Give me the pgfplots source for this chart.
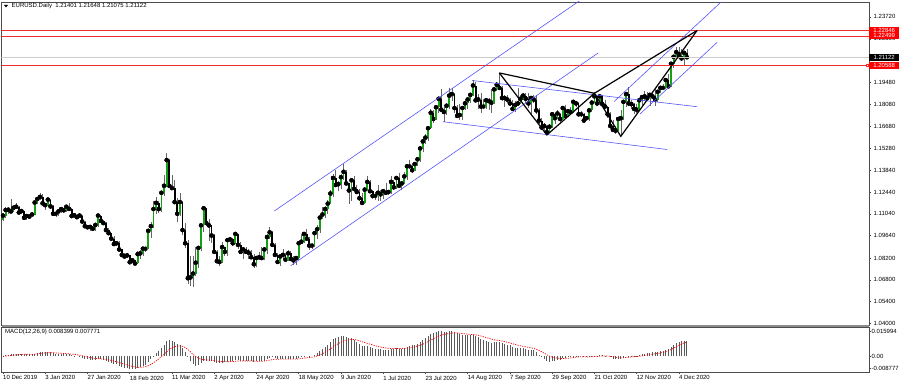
\documentclass[border=0pt]{standalone}
\usepackage{fontspec}
\setmainfont{Liberation Sans}
\usepackage{pgfplots}
\usepackage{pgfplotstable}
\pgfplotsset{compat=1.18}
\definecolor{upg}{RGB}{20,160,20}
\definecolor{chblue}{RGB}{85,85,250}
\definecolor{lvred}{RGB}{240,45,45}
\definecolor{boxred}{RGB}{255,0,0}
\definecolor{bidgray}{RGB}{205,205,205}

\pgfplotstableread{
i o h l c
0 1.1066 1.1096 1.1061 1.1093
1 1.1093 1.1146 1.1078 1.1129
2 1.1129 1.1145 1.1105 1.1131
3 1.1131 1.1200 1.1107 1.1120
4 1.1120 1.1155 1.1115 1.1144
5 1.1144 1.1175 1.1133 1.1150
6 1.1150 1.1154 1.1106 1.1113
7 1.1113 1.1132 1.1105 1.1122
8 1.1122 1.1124 1.1066 1.1079
9 1.1079 1.1093 1.1067 1.1090
10 1.1090 1.1093 1.1080 1.1087
11 1.1087 1.1103 1.1083 1.1100
12 1.1100 1.1188 1.1098 1.1177
13 1.1177 1.1209 1.1165 1.1200
14 1.1200 1.1239 1.1195 1.1213
15 1.1213 1.1229 1.1163 1.1172
16 1.1172 1.1175 1.1128 1.1160
17 1.1160 1.1206 1.1147 1.1196
18 1.1196 1.1197 1.1134 1.1152
19 1.1152 1.1164 1.1090 1.1105
20 1.1105 1.1120 1.1086 1.1105
21 1.1105 1.1125 1.1090 1.1120
22 1.1120 1.1140 1.1107 1.1135
23 1.1135 1.1140 1.1115 1.1127
24 1.1127 1.1152 1.1117 1.1150
25 1.1150 1.1171 1.1132 1.1136
26 1.1136 1.1143 1.1083 1.1090
27 1.1090 1.1098 1.1086 1.1095
28 1.1095 1.1102 1.1076 1.1083
29 1.1083 1.1104 1.1076 1.1093
30 1.1093 1.1097 1.1036 1.1055
31 1.1055 1.1061 1.1020 1.1025
32 1.1025 1.1031 1.1008 1.1018
33 1.1018 1.1025 1.0993 1.1020
34 1.1020 1.1025 1.0992 1.1009
35 1.1009 1.1043 1.0995 1.1033
36 1.1033 1.1097 1.1020 1.1093
37 1.1093 1.1096 1.1050 1.1060
38 1.1060 1.1064 1.1036 1.1045
39 1.1045 1.1049 1.0990 1.1000
40 1.1000 1.1014 1.0966 1.0980
41 1.0980 1.0981 1.0940 1.0945
42 1.0945 1.0959 1.0905 1.0910
43 1.0910 1.0929 1.0895 1.0915
44 1.0915 1.0928 1.0870 1.0875
45 1.0875 1.0880 1.0829 1.0840
46 1.0840 1.0851 1.0827 1.0830
47 1.0830 1.0851 1.0822 1.0837
48 1.0837 1.0840 1.0788 1.0793
49 1.0793 1.0816 1.0785 1.0805
50 1.0805 1.0808 1.0778 1.0785
51 1.0785 1.0863 1.0780 1.0845
52 1.0845 1.0873 1.0814 1.0850
53 1.0850 1.0890 1.0830 1.0880
54 1.0880 1.0892 1.0856 1.0880
55 1.0880 1.1001 1.0876 1.0995
56 1.0995 1.1053 1.0949 1.1025
57 1.1025 1.1185 1.1015 1.1135
58 1.1135 1.1214 1.1106 1.1175
59 1.1175 1.1185 1.1110 1.1135
60 1.1135 1.1247 1.1114 1.1240
61 1.1240 1.1355 1.1216 1.1285
62 1.1285 1.1496 1.1280 1.1450
63 1.1450 1.1460 1.1284 1.1285
64 1.1285 1.1357 1.1261 1.1270
65 1.1270 1.1320 1.1170 1.1180
66 1.1180 1.1209 1.1055 1.1105
67 1.1105 1.1240 1.1090 1.1180
68 1.1180 1.1190 1.0965 1.1000
69 1.1000 1.1045 1.0887 1.0915
70 1.0915 1.0935 1.0655 1.0690
71 1.0690 1.0830 1.0639 1.0695
72 1.0695 1.0830 1.0636 1.0720
73 1.0720 1.0890 1.0705 1.0790
74 1.0790 1.0890 1.0755 1.0885
75 1.0885 1.1035 1.0865 1.1030
76 1.1030 1.1147 1.0990 1.1140
77 1.1140 1.1145 1.1025 1.1045
78 1.1045 1.1072 1.0930 1.1030
79 1.1030 1.1035 1.0915 1.0965
80 1.0965 1.0972 1.0855 1.0860
81 1.0860 1.0870 1.0780 1.0800
82 1.0800 1.0833 1.0768 1.0795
83 1.0795 1.0925 1.0790 1.0890
84 1.0890 1.0891 1.0830 1.0860
85 1.0860 1.0952 1.0830 1.0935
86 1.0935 1.0955 1.0925 1.0940
87 1.0940 1.0950 1.0895 1.0915
88 1.0915 1.0990 1.0910 1.0975
89 1.0975 1.0975 1.0880 1.0905
90 1.0905 1.0926 1.0855 1.0860
91 1.0860 1.0889 1.0813 1.0875
92 1.0875 1.0890 1.0845 1.0860
93 1.0860 1.0878 1.0815 1.0855
94 1.0855 1.0870 1.0820 1.0825
95 1.0825 1.0844 1.0757 1.0780
96 1.0780 1.0830 1.0762 1.0820
97 1.0820 1.0860 1.0810 1.0825
98 1.0825 1.0888 1.0812 1.0820
99 1.0820 1.0888 1.0810 1.0875
100 1.0875 1.0973 1.0845 1.0955
101 1.0955 1.1019 1.0945 1.0985
102 1.0985 1.0993 1.0890 1.0905
103 1.0905 1.0915 1.0825 1.0840
104 1.0840 1.0850 1.0782 1.0795
105 1.0795 1.0840 1.0768 1.0830
106 1.0830 1.0875 1.0815 1.0840
107 1.0840 1.0850 1.0795 1.0810
108 1.0810 1.0873 1.0800 1.0850
109 1.0850 1.0868 1.0805 1.0815
110 1.0815 1.0830 1.0775 1.0805
111 1.0805 1.0830 1.0775 1.0820
112 1.0820 1.0930 1.0805 1.0915
113 1.0915 1.0975 1.0910 1.0925
114 1.0925 1.0980 1.0918 1.0975
115 1.0975 1.1008 1.0935 1.0945
116 1.0945 1.0956 1.0870 1.0900
117 1.0900 1.0918 1.0880 1.0900
118 1.0900 1.0995 1.0890 1.0980
119 1.0980 1.1030 1.0940 1.1005
120 1.1005 1.1092 1.0980 1.1080
121 1.1080 1.1146 1.1070 1.1100
122 1.1100 1.1155 1.1080 1.1135
123 1.1135 1.1195 1.1105 1.1170
124 1.1170 1.1257 1.1166 1.1235
125 1.1235 1.1361 1.1212 1.1335
126 1.1335 1.1384 1.1275 1.1290
127 1.1290 1.1315 1.1253 1.1295
128 1.1295 1.1361 1.1265 1.1340
129 1.1340 1.1422 1.1325 1.1375
130 1.1375 1.1389 1.1295 1.1300
131 1.1300 1.1302 1.1168 1.1255
132 1.1255 1.1333 1.1190 1.1320
133 1.1320 1.1350 1.1245 1.1265
134 1.1265 1.1290 1.1230 1.1245
135 1.1245 1.1266 1.1187 1.1205
136 1.1205 1.1240 1.1168 1.1175
137 1.1175 1.1275 1.1170 1.1260
138 1.1260 1.1349 1.1250 1.1310
139 1.1310 1.1322 1.1240 1.1250
140 1.1250 1.1255 1.1200 1.1220
141 1.1220 1.1247 1.1195 1.1220
142 1.1220 1.1290 1.1190 1.1240
143 1.1240 1.1255 1.1190 1.1230
144 1.1230 1.1265 1.1200 1.1250
145 1.1250 1.1302 1.1230 1.1240
146 1.1240 1.1255 1.1225 1.1245
147 1.1245 1.1345 1.1235 1.1310
148 1.1310 1.1320 1.1255 1.1275
149 1.1275 1.1347 1.1262 1.1335
150 1.1335 1.1370 1.1270 1.1285
151 1.1285 1.1310 1.1255 1.1300
152 1.1300 1.1375 1.1295 1.1345
153 1.1345 1.1420 1.1320 1.1410
154 1.1410 1.1452 1.1390 1.1410
155 1.1410 1.1432 1.1370 1.1385
156 1.1385 1.1440 1.1380 1.1425
157 1.1425 1.1470 1.1410 1.1455
158 1.1455 1.1540 1.1440 1.1525
159 1.1525 1.1600 1.1505 1.1570
160 1.1570 1.1620 1.1555 1.1595
161 1.1595 1.1665 1.1575 1.1655
162 1.1655 1.1780 1.1650 1.1755
163 1.1755 1.1770 1.1690 1.1715
164 1.1715 1.1805 1.1710 1.1790
165 1.1790 1.1850 1.1755 1.1845
166 1.1845 1.1908 1.1760 1.1775
167 1.1775 1.1790 1.1695 1.1760
168 1.1760 1.1815 1.1740 1.1800
169 1.1800 1.1915 1.1780 1.1865
170 1.1865 1.1916 1.1830 1.1875
171 1.1875 1.1880 1.1755 1.1785
172 1.1785 1.1805 1.1730 1.1735
173 1.1735 1.1810 1.1710 1.1740
174 1.1740 1.1800 1.1710 1.1785
175 1.1785 1.1835 1.1775 1.1815
176 1.1815 1.1850 1.1780 1.1840
177 1.1840 1.1875 1.1820 1.1870
178 1.1870 1.1966 1.1865 1.1930
179 1.1930 1.1950 1.1830 1.1835
180 1.1835 1.1875 1.1780 1.1840
181 1.1840 1.1883 1.1753 1.1795
182 1.1795 1.1845 1.1780 1.1795
183 1.1795 1.1850 1.1780 1.1835
184 1.1835 1.1850 1.1770 1.1830
185 1.1830 1.1905 1.1755 1.1820
186 1.1820 1.1920 1.1810 1.1905
187 1.1905 1.1950 1.1895 1.1935
188 1.1935 1.2011 1.1905 1.1915
189 1.1915 1.1925 1.1830 1.1850
190 1.1850 1.1870 1.1790 1.1850
191 1.1850 1.1870 1.1815 1.1840
192 1.1840 1.1850 1.1800 1.1815
193 1.1815 1.1835 1.1765 1.1780
194 1.1780 1.1830 1.1760 1.1805
195 1.1805 1.1917 1.1800 1.1815
196 1.1815 1.1870 1.1810 1.1845
197 1.1845 1.1885 1.1835 1.1865
198 1.1865 1.1885 1.1820 1.1845
199 1.1845 1.1880 1.1785 1.1815
200 1.1815 1.1835 1.1737 1.1850
201 1.1850 1.1870 1.1815 1.1840
202 1.1840 1.1870 1.1745 1.1770
203 1.1770 1.1785 1.1685 1.1705
204 1.1705 1.1720 1.1645 1.1660
205 1.1660 1.1690 1.1625 1.1670
206 1.1670 1.1675 1.1612 1.1630
207 1.1630 1.1684 1.1625 1.1665
208 1.1665 1.1755 1.1655 1.1745
209 1.1745 1.1755 1.1685 1.1720
210 1.1720 1.1770 1.1715 1.1750
211 1.1750 1.1755 1.1695 1.1715
212 1.1715 1.1795 1.1710 1.1785
213 1.1785 1.1805 1.1745 1.1735
214 1.1735 1.1770 1.1730 1.1765
215 1.1765 1.1790 1.1745 1.1760
216 1.1760 1.1830 1.1755 1.1825
217 1.1825 1.1830 1.1790 1.1815
218 1.1815 1.1825 1.1735 1.1745
219 1.1745 1.1765 1.1725 1.1745
220 1.1745 1.1755 1.1690 1.1705
221 1.1705 1.1735 1.1700 1.1720
222 1.1720 1.1785 1.1705 1.1770
223 1.1770 1.1840 1.1760 1.1820
224 1.1820 1.1880 1.1815 1.1860
225 1.1860 1.1865 1.1800 1.1815
226 1.1815 1.1870 1.1805 1.1860
227 1.1860 1.1868 1.1790 1.1810
228 1.1810 1.1835 1.1790 1.1795
229 1.1795 1.1800 1.1720 1.1745
230 1.1745 1.1760 1.1650 1.1670
231 1.1670 1.1710 1.1640 1.1645
232 1.1645 1.1670 1.1620 1.1640
233 1.1640 1.1720 1.1635 1.1715
234 1.1715 1.1770 1.1603 1.1720
235 1.1720 1.1830 1.1710 1.1825
236 1.1825 1.1890 1.1795 1.1875
237 1.1875 1.1920 1.1800 1.1815
238 1.1815 1.1840 1.1780 1.1810
239 1.1810 1.1820 1.1745 1.1780
240 1.1780 1.1810 1.1755 1.1775
241 1.1775 1.1840 1.1765 1.1835
242 1.1835 1.1870 1.1805 1.1855
243 1.1855 1.1895 1.1830 1.1860
244 1.1860 1.1890 1.1830 1.1850
245 1.1850 1.1880 1.1800 1.1870
246 1.1870 1.1890 1.1845 1.1860
247 1.1860 1.1905 1.1800 1.1840
248 1.1840 1.1895 1.1825 1.1890
249 1.1890 1.1925 1.1880 1.1915
250 1.1915 1.1942 1.1905 1.1915
251 1.1915 1.1970 1.1905 1.1965
252 1.1965 1.2005 1.1920 1.1925
253 1.1925 1.2075 1.1920 1.2070
254 1.2070 1.2121 1.2040 1.2115
255 1.2115 1.2176 1.2105 1.2145
256 1.2145 1.2177 1.2110 1.2120
257 1.2120 1.2165 1.2090 1.2105
258 1.2105 1.2130 1.2060 1.2140
259 1.21401 1.21648 1.21075 1.21122
}\candles

\pgfplotstableread{
i m s
0 0.0003 0.00000
1 0.0006 0.00012
2 0.0009 0.00028
3 0.0011 0.00044
4 0.0013 0.00061
5 0.0015 0.00079
6 0.0014 0.00091
7 0.0014 0.00101
8 0.0012 0.00105
9 0.0011 0.00106
10 0.0010 0.00105
11 0.0010 0.00104
12 0.0015 0.00113
13 0.0019 0.00128
14 0.0023 0.00149
15 0.0024 0.00167
16 0.0023 0.00180
17 0.0024 0.00192
18 0.0022 0.00197
19 0.0018 0.00194
20 0.0015 0.00185
21 0.0013 0.00174
22 0.0012 0.00163
23 0.0011 0.00153
24 0.0011 0.00144
25 0.0010 0.00135
26 0.0006 0.00120
27 0.0003 0.00102
28 0.0000 0.00082
29 -0.0003 0.00059
30 -0.0008 0.00032
31 -0.0013 -0.00001
32 -0.0017 -0.00035
33 -0.0020 -0.00068
34 -0.0023 -0.00100
35 -0.0023 -0.00126
36 -0.0018 -0.00137
37 -0.0018 -0.00146
38 -0.0020 -0.00157
39 -0.0025 -0.00175
40 -0.0030 -0.00200
41 -0.0036 -0.00232
42 -0.0042 -0.00270
43 -0.0046 -0.00308
44 -0.0052 -0.00350
45 -0.0059 -0.00398
46 -0.0063 -0.00445
47 -0.0065 -0.00486
48 -0.0070 -0.00529
49 -0.0072 -0.00567
50 -0.0073 -0.00600
51 -0.0067 -0.00614
52 -0.0062 -0.00615
53 -0.0055 -0.00602
54 -0.0048 -0.00578
55 -0.0032 -0.00526
56 -0.0018 -0.00457
57 0.0002 -0.00361
58 0.0019 -0.00251
59 0.0029 -0.00143
60 0.0045 -0.00024
61 0.0060 0.00101
62 0.0085 0.00251
63 0.0088 0.00376
64 0.0087 0.00475
65 0.0078 0.00536
66 0.0066 0.00561
67 0.0060 0.00569
68 0.0045 0.00545
69 0.0025 0.00486
70 -0.0005 0.00379
71 -0.0029 0.00245
72 -0.0045 0.00106
73 -0.0052 -0.00019
74 -0.0048 -0.00111
75 -0.0040 -0.00169
76 -0.0028 -0.00191
77 -0.0025 -0.00203
78 -0.0025 -0.00212
79 -0.0028 -0.00226
80 -0.0032 -0.00245
81 -0.0036 -0.00268
82 -0.0038 -0.00290
83 -0.0035 -0.00302
84 -0.0034 -0.00310
85 -0.0030 -0.00308
86 -0.0027 -0.00300
87 -0.0026 -0.00292
88 -0.0022 -0.00278
89 -0.0023 -0.00268
90 -0.0026 -0.00267
91 -0.0026 -0.00265
92 -0.0026 -0.00264
93 -0.0026 -0.00263
94 -0.0027 -0.00265
95 -0.0030 -0.00272
96 -0.0029 -0.00275
97 -0.0028 -0.00276
98 -0.0028 -0.00277
99 -0.0024 -0.00270
100 -0.0016 -0.00248
101 -0.0008 -0.00214
102 -0.0007 -0.00185
103 -0.0010 -0.00168
104 -0.0015 -0.00165
105 -0.0015 -0.00162
106 -0.0015 -0.00159
107 -0.0017 -0.00162
108 -0.0015 -0.00159
109 -0.0016 -0.00159
110 -0.0017 -0.00162
111 -0.0016 -0.00161
112 -0.0008 -0.00145
113 -0.0006 -0.00128
114 -0.0002 -0.00106
115 0.0000 -0.00085
116 -0.0001 -0.00070
117 0.0000 -0.00056
118 0.0008 -0.00029
119 0.0017 0.00011
120 0.0030 0.00069
121 0.0042 0.00139
122 0.0053 0.00217
123 0.0065 0.00304
124 0.0078 0.00399
125 0.0095 0.00509
126 0.0103 0.00613
127 0.0106 0.00703
128 0.0110 0.00782
129 0.0112 0.00850
130 0.0108 0.00896
131 0.0101 0.00919
132 0.0099 0.00933
133 0.0091 0.00928
134 0.0082 0.00907
135 0.0070 0.00865
136 0.0058 0.00808
137 0.0056 0.00759
138 0.0056 0.00719
139 0.0050 0.00675
140 0.0044 0.00628
141 0.0040 0.00583
142 0.0040 0.00546
143 0.0038 0.00513
144 0.0037 0.00484
145 0.0036 0.00459
146 0.0036 0.00440
147 0.0040 0.00432
148 0.0040 0.00425
149 0.0044 0.00428
150 0.0043 0.00429
151 0.0043 0.00429
152 0.0046 0.00435
153 0.0053 0.00454
154 0.0058 0.00479
155 0.0060 0.00503
156 0.0064 0.00531
157 0.0069 0.00563
158 0.0079 0.00608
159 0.0090 0.00667
160 0.0100 0.00733
161 0.0110 0.00807
162 0.0123 0.00891
163 0.0129 0.00971
164 0.0136 0.01049
165 0.0142 0.01123
166 0.0140 0.01178
167 0.0136 0.01215
168 0.0135 0.01242
169 0.0138 0.01269
170 0.0140 0.01296
171 0.0134 0.01304
172 0.0127 0.01298
173 0.0122 0.01282
174 0.0119 0.01264
175 0.0117 0.01245
176 0.0116 0.01228
177 0.0116 0.01214
178 0.0119 0.01210
179 0.0112 0.01192
180 0.0106 0.01165
181 0.0098 0.01128
182 0.0091 0.01085
183 0.0087 0.01042
184 0.0082 0.00997
185 0.0076 0.00950
186 0.0078 0.00916
187 0.0080 0.00893
188 0.0080 0.00874
189 0.0074 0.00847
190 0.0068 0.00814
191 0.0062 0.00775
192 0.0060 0.00740
193 0.0053 0.00698
194 0.0048 0.00655
195 0.0046 0.00616
196 0.0045 0.00583
197 0.0044 0.00554
198 0.0041 0.00525
199 0.0036 0.00492
200 0.0035 0.00464
201 0.0032 0.00435
202 0.0022 0.00392
203 0.0008 0.00330
204 -0.0006 0.00252
205 -0.0016 0.00169
206 -0.0026 0.00084
207 -0.0030 0.00007
208 -0.0026 -0.00047
209 -0.0024 -0.00085
210 -0.0020 -0.00108
211 -0.0019 -0.00125
212 -0.0012 -0.00124
213 -0.0010 -0.00119
214 -0.0007 -0.00109
215 -0.0005 -0.00097
216 0.0001 -0.00076
217 0.0004 -0.00053
218 0.0002 -0.00038
219 0.0000 -0.00031
220 -0.0004 -0.00032
221 -0.0006 -0.00038
222 -0.0004 -0.00038
223 -0.0001 -0.00033
224 0.0003 -0.00020
225 0.0004 -0.00008
226 0.0006 0.00006
227 0.0005 0.00014
228 0.0004 0.00020
229 0.0000 0.00016
230 -0.0007 -0.00002
231 -0.0013 -0.00027
232 -0.0018 -0.00058
233 -0.0016 -0.00078
234 -0.0015 -0.00093
235 -0.0008 -0.00090
236 0.0000 -0.00072
237 0.0002 -0.00054
238 0.0003 -0.00037
239 0.0002 -0.00026
240 0.0002 -0.00016
241 0.0006 -0.00001
242 0.0010 0.00019
243 0.0014 0.00043
244 0.0016 0.00067
245 0.0020 0.00093
246 0.0021 0.00117
247 0.0021 0.00135
248 0.0024 0.00156
249 0.0028 0.00181
250 0.0031 0.00220
251 0.0037 0.00255
252 0.0038 0.00300
253 0.0050 0.00370
254 0.0063 0.00450
255 0.0074 0.00530
256 0.0080 0.00610
257 0.0083 0.00680
258 0.0086 0.00740
259 0.0084 0.00777
}\macd

\begin{document}
\begin{tikzpicture}[font=\fontsize{6}{7}\selectfont]
\useasboundingbox (0,0) rectangle (900pt,386pt);
\begin{axis}[
  at={(1.5pt,60.5pt)}, anchor=south west, scale only axis,
  width=867.5pt, height=323.5pt,
  xmin=-0.57, xmax=328.0, ymin=1.038584, ymax=1.246757,
  clip mode=individual,
  xtick=\empty, scaled y ticks=false,
  axis line style={black!70, line width=0.6pt},
  ytick pos=right, yticklabel pos=right,
  tick align=outside, major tick length=2pt,
  tick style={black!70, line width=0.5pt},
  ytick={1.04,1.054,1.068,1.082,1.0964,1.1104,1.1244,1.1384,1.1528,1.1668,1.1808,1.1948,1.209,1.223,1.2372},
  yticklabels={1.04000,1.05400,1.06800,1.08200,1.09640,1.11040,1.12440,1.13840,1.15280,1.16680,1.18080,1.19480,{},1.22300,1.23720},
  yticklabel style={anchor=west, inner sep=0pt, xshift=2.5pt, font=\fontsize{6}{7}\selectfont},
  unbounded coords=discard,
]
% candles: wicks, bearish bodies, bullish bodies
\addplot[only marks, mark=none, forget plot,
  error bars/.cd, y dir=both, y explicit, error mark=none,
  error bar style={line width=0.6pt, draw=black!60}]
  table[x=i, y=c, y error plus expr=\thisrow{h}-\thisrow{c}, y error minus expr=\thisrow{c}-\thisrow{l}] {\candles};
\addplot[only marks, mark=none, forget plot,
  error bars/.cd, y dir=plus, y explicit, error mark=none,
  error bar style={line width=1.8pt, draw=black, line cap=butt}]
  table[x=i, y expr={\thisrow{o}>\thisrow{c} ? \thisrow{c} : nan}, y error plus expr={\thisrow{o}-\thisrow{c}}] {\candles};
\addplot[only marks, mark=none, forget plot,
  error bars/.cd, y dir=minus, y explicit, error mark=none,
  error bar style={line width=1.8pt, draw=upg, line cap=butt}]
  table[x=i, y expr={\thisrow{c}>\thisrow{o} ? \thisrow{c} : nan}, y error minus expr={\thisrow{c}-\thisrow{o}}] {\candles};
% horizontal levels
\addplot[bidgray, line width=0.6pt] coordinates {(-0.57,1.21122) (328,1.21122)};
\addplot[lvred, line width=0.6pt] coordinates {(-0.57,1.22846) (328,1.22846)};
\addplot[lvred, line width=0.6pt] coordinates {(-0.57,1.22499) (328,1.22499)};
\addplot[lvred, line width=0.6pt] coordinates {(-0.57,1.20588) (327.2,1.20588)};
\addplot[lvred, only marks, mark=square, mark size=1.1pt, line width=0.5pt] coordinates {(327.2,1.20588)};
% channels
\addplot[chblue, line width=0.6pt] coordinates {(102.77,1.11227) (224.3,1.25448)};
\addplot[chblue, line width=0.6pt] coordinates {(108.98,1.07707) (225.38,1.21394)};
\addplot[chblue, line width=0.6pt] coordinates {(177.65,1.19624) (262.88,1.17938)};
\addplot[chblue, line width=0.6pt] coordinates {(166.67,1.16973) (251.52,1.15184)};
\addplot[chblue, line width=0.6pt] coordinates {(231.44,1.18266) (271.97,1.24676)};
\addplot[chblue, line width=0.6pt] coordinates {(241.29,1.17469) (270.45,1.22076)};
% harmonic pattern
\addplot[black, line width=1.2pt] coordinates {(188,1.2011) (206,1.1612) (224,1.1880) (234,1.1603) (262.9,1.22846)};
\addplot[black, line width=1.2pt] coordinates {(188,1.2011) (224,1.1880)};
\addplot[black, line width=1.2pt] coordinates {(224,1.1880) (262.9,1.22846)};
% price boxes
\node[fill=boxred, text=white, anchor=west, minimum width=30pt, minimum height=6.6pt, inner sep=0pt] at (axis cs:328,1.22846) {1.22846};
\node[fill=boxred, text=white, anchor=west, minimum width=30pt, minimum height=6.6pt, inner sep=0pt] at (axis cs:328,1.22499) {1.22499};
\node[fill=black, text=white, anchor=west, minimum width=30pt, minimum height=6.6pt, inner sep=0pt] at (axis cs:328,1.21122) {1.21122};
\node[fill=boxred, text=white, anchor=west, minimum width=30pt, minimum height=6.6pt, inner sep=0pt] at (axis cs:328,1.20588) {1.20588};
\end{axis}

\begin{axis}[
  at={(1.5pt,14pt)}, anchor=south west, scale only axis,
  width=867.5pt, height=44.5pt,
  xmin=-0.57, xmax=328.0, ymin=-0.008777, ymax=0.015994,
  scaled y ticks=false,
  axis line style={black!70, line width=0.6pt},
  tick align=outside, major tick length=2pt,
  tick style={black!70, line width=0.5pt},
  xtick pos=bottom, ytick pos=right, yticklabel pos=right,
  xtick={0,16,32,48,64,80,96,112,128,144,160,176,192,208,224,240,256},
  xticklabels={10 Dec 2019,3 Jan 2020,27 Jan 2020,18 Feb 2020,11 Mar 2020,2 Apr 2020,24 Apr 2020,18 May 2020,9 Jun 2020,1 Jul 2020,23 Jul 2020,14 Aug 2020,7 Sep 2020,29 Sep 2020,21 Oct 2020,12 Nov 2020,4 Dec 2020},
  xticklabel style={anchor=north west, inner sep=0pt, xshift=0pt, yshift=-1.5pt, font=\fontsize{6}{7}\selectfont},
  ytick={-0.00657,0,0.01403},
  yticklabels={-0.008777,0.00,0.015994},
  yticklabel style={anchor=west, inner sep=0pt, xshift=0.5pt, font=\fontsize{6}{7}\selectfont},
]
\addplot[ycomb, draw=black!65, line width=0.8pt, mark=none] table[x=i, y=m] {\macd};
\addplot[boxred, line width=0.7pt, dash pattern=on 1.2pt off 1.2pt, mark=none] table[x=i, y=s] {\macd};
\end{axis}

% separator between panels
\fill[black!45] (1.5pt,58.6pt) rectangle (869pt,61pt);
% titles
\fill[black] (4pt,381pt) -- (8pt,381pt) -- (6pt,378.6pt) -- cycle;
\node[anchor=west, inner sep=0pt] at (11.5pt,380pt) {EURUSD.Daily\ \ 1.21401 1.21648 1.21075 1.21122};
\node[anchor=west, inner sep=0pt] at (5pt,53.7pt) {MACD(12,26,9) 0.008399 0.007771};
\end{tikzpicture}
\end{document}
